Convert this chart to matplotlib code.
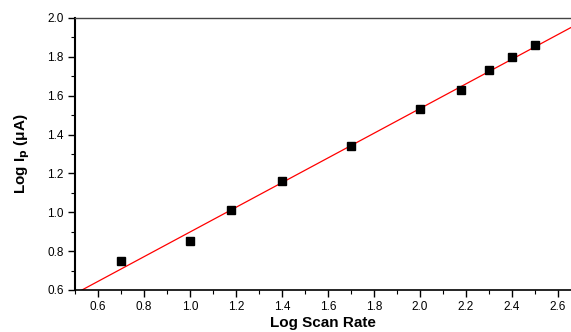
import numpy as np
import matplotlib
matplotlib.use("Agg")
import matplotlib.pyplot as plt
from matplotlib.ticker import MultipleLocator

plt.rcParams['font.family'] = ['Liberation Sans', 'DejaVu Sans']

log_scan_rate = [0.70, 1.00, 1.18, 1.40, 1.70, 2.00, 2.18, 2.30, 2.40, 2.50]
log_ip = [0.75, 0.85, 1.01, 1.16, 1.34, 1.53, 1.63, 1.73, 1.80, 1.86]

fig = plt.figure(figsize=(5.71, 3.32), dpi=100)
ax = fig.add_axes([75/571, 42/332, 1 - 75/571, 272/332])

xmin, xmax = 0.5, 2.657
slope, intercept = np.polyfit(log_scan_rate, log_ip, 1)
xl = np.array([xmin, xmax])
ax.plot(xl, slope * xl + intercept, color='red', lw=0.9, zorder=2)
ax.plot(log_scan_rate, log_ip, 's', color='black', markersize=5.5, zorder=3)

ax.set_xlim(xmin, xmax)
ax.set_ylim(0.6, 2.0)
ax.xaxis.set_minor_locator(MultipleLocator(0.1))
ax.yaxis.set_major_locator(MultipleLocator(0.2))
ax.yaxis.set_minor_locator(MultipleLocator(0.1))
xt = np.arange(0.6, 2.61, 0.2)
ax.set_xticks(xt)
ax.set_xticklabels([f"{v:.1f}" for v in xt])

ax.spines['right'].set_visible(False)
ax.spines['left'].set_linewidth(1.5)
ax.spines['bottom'].set_linewidth(1.2)
ax.spines['top'].set_linewidth(1.0)
ax.spines['top'].set_color('#444444')
ax.tick_params(which='major', direction='out', length=5, width=1, labelsize=8.5, pad=3)
ax.tick_params(which='minor', direction='out', length=3, width=0.8)
ax.tick_params(top=False, right=False)

ax.set_xlabel('Log Scan Rate', fontsize=11, fontweight='bold', labelpad=2)
ax.set_ylabel('Log I$_\\mathbf{p}$ (μA)', fontsize=11, fontweight='bold', labelpad=11)

fig.savefig('out.png', dpi=100)
